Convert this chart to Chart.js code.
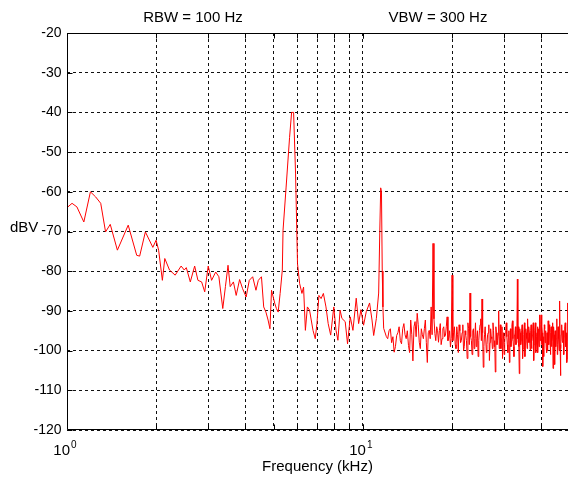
<!DOCTYPE html>
<html>
<head>
<meta charset="utf-8">
<script src="https://cdn.jsdelivr.net/npm/chart.js@4"></script>
<style>
  html, body { margin: 0; padding: 0; background: #fff; }
  #wrap { width: 568px; height: 478px; }
</style>
</head>
<body>
<div id="wrap"><canvas id="spectrum" width="568" height="478"></canvas></div>
<script>
// spectrum up to the 11.5 kHz line (kHz / dBV)
const lowFreq = [
  1.0, 1.04, 1.08, 1.14, 1.2, 1.25, 1.3, 1.35, 1.4, 1.48,
  1.61, 1.72, 1.76, 1.84, 1.95, 2.0, 2.04, 2.1, 2.14, 2.22,
  2.32, 2.43, 2.49, 2.53, 2.61, 2.7, 2.77, 2.85, 2.92, 3.0,
  3.08, 3.18, 3.26, 3.36, 3.43, 3.5, 3.56, 3.65, 3.73, 3.83,
  3.92, 4.03, 4.13, 4.24, 4.35, 4.43, 4.54, 4.62, 4.7, 4.78,
  4.85, 4.91, 5.04, 5.1, 5.17, 5.25, 5.34, 5.37, 5.5, 5.65,
  5.74, 5.83, 5.92, 6.01, 6.11, 6.22, 6.3, 6.39, 6.49, 6.6,
  6.78, 6.9, 6.99, 7.1, 7.22, 7.35, 7.5, 7.63, 7.78, 7.97,
  8.11, 8.23, 8.37, 8.49, 8.71, 8.87, 9.06, 9.25, 9.49, 9.67,
  9.84, 10.05, 10.26, 10.53, 10.73, 10.87, 11.1, 11.3, 11.4, 11.48,
  11.55, 11.62, 11.68
];
const lowLevel = [
  -64.0, -62.9, -63.8, -67.6, -60.0, -61.3, -62.9, -70.1, -68.2, -74.7,
  -68.4, -76.0, -76.2, -70.1, -74.0, -72.2, -74.7, -82.3, -76.8, -79.7,
  -81.0, -78.7, -79.7, -79.1, -82.7, -78.7, -82.3, -82.7, -85.2, -78.7,
  -82.3, -80.2, -81.4, -89.4, -83.9, -78.5, -83.9, -82.7, -86.1, -82.1,
  -84.4, -86.5, -82.3, -81.4, -84.8, -82.3, -81.4, -89.0, -90.3, -92.3,
  -94.5, -84.8, -88.2, -89.4, -90.3, -85.6, -79.7, -69.7, -58.8, -46.3,
  -40.0, -40.0, -55.5, -78.1, -83.1, -85.6, -84.0, -94.9, -89.0, -89.8,
  -94.9, -97.0, -93.2, -86.1, -86.9, -85.6, -89.0, -93.2, -96.1, -89.0,
  -94.9, -97.4, -89.8, -91.9, -92.7, -98.3, -91.5, -94.9, -86.8, -93.2,
  -89.7, -93.6, -90.2, -88.0, -92.3, -96.2, -91.9, -85.5, -70.0, -59.0,
  -60.0, -80.0, -89.0
];

// noise floor above 11.7 kHz, bins on the quarter kHz
const highFreq = [
  11.75,
  12, 12.25, 12.5, 12.75, 13, 13.25, 13.5, 13.75,
  14, 14.25, 14.5, 14.75, 15, 15.25, 15.5, 15.75,
  16, 16.25, 16.5, 16.75, 17, 17.25, 17.5, 17.75,
  18, 18.25, 18.5, 18.75, 19, 19.25, 19.5, 19.75,
  20, 20.25, 20.5, 20.75, 21, 21.25, 21.5, 21.75,
  22, 22.25, 22.5, 22.75, 23, 23.25, 23.5, 23.75,
  24, 24.25, 24.5, 24.75, 25, 25.25, 25.5, 25.75,
  26, 26.25, 26.5, 26.75, 27, 27.25, 27.5, 27.75,
  28, 28.25, 28.5, 28.75, 29, 29.25, 29.5, 29.75,
  30, 30.25, 30.5, 30.75, 31, 31.25, 31.5, 31.75,
  32, 32.25, 32.5, 32.75, 33, 33.25, 33.5, 33.75,
  34, 34.25, 34.5, 34.75, 35, 35.25, 35.5, 35.75,
  36, 36.25, 36.5, 36.75, 37, 37.25, 37.5, 37.75,
  38, 38.25, 38.5, 38.75, 39, 39.25, 39.5, 39.75,
  40, 40.25, 40.5, 40.75, 41, 41.25, 41.5, 41.75,
  42, 42.25, 42.5, 42.75, 43, 43.25, 43.5, 43.75,
  44, 44.25, 44.5, 44.75, 45, 45.25, 45.5, 45.75,
  46, 46.25, 46.5, 46.75, 47, 47.25, 47.5, 47.75,
  48, 48.25, 48.5, 48.75, 49, 49.25, 49.5, 49.75
];
const highLevel = [
  -94.4,
  -96.5, -95.0, -98.0, -100.4, -96.2, -94.0, -98.3, -93.2,
  -97.0, -98.7, -92.3, -102.6, -92.7, -90.6, -97.9, -94.5,
  -97.0, -92.3, -103.0, -94.9, -89.0, -73.0, -95.7, -94.0,
  -97.9, -93.2, -97.0, -94.0, -96.2, -91.5, -96.6, -99.1,
  -81.0, -95.5, -98.5, -94.0, -100.5, -95.0, -97.5, -93.5,
  -99.0, -96.0, -102.0, -94.5, -85.5, -97.5, -95.0, -99.5,
  -93.0, -97.0, -101.5, -95.0, -92.0, -87.0, -104.2, -96.0,
  -94.0, -98.5, -95.5, -102.5, -94.5, -97.0, -93.0, -99.0,
  -105.4, -95.5, -97.5, -90.0, -96.5, -99.5, -94.0, -97.0,
  -101.0, -95.5, -93.0, -98.5, -96.0, -103.0, -94.5, -97.5,
  -92.5, -99.0, -96.0, -94.0, -98.0, -82.0, -94.0, -105.8,
  -95.5, -97.5, -93.5, -99.5, -96.0, -101.5, -94.5, -97.0,
  -92.0, -98.0, -95.5, -100.0, -93.5, -97.5, -95.0, -102.5,
  -96.5, -93.0, -98.5, -95.5, -100.5, -94.5, -91.0, -97.5,
  -91.0, -94.0, -104.0, -96.5, -93.5, -98.0, -95.0, -100.5,
  -96.5, -92.5, -98.5, -95.0, -101.0, -94.0, -97.5, -93.0,
  -99.0, -96.0, -103.5, -95.0, -97.0, -92.0, -98.5, -95.5,
  -100.0, -87.5, -106.3, -96.0, -93.5, -98.0, -95.0, -101.0,
  -96.0, -93.0, -99.0, -95.5, -102.0, -88.0, -94.0, -98.0
];

// in-between bins of the noise floor
const midFreq = [
  12.125, 12.375, 12.625, 12.875, 13.125, 13.375, 13.625, 13.875,
  14.125, 14.375, 14.625, 14.875, 15.125, 15.375, 15.625, 15.875,
  16.125, 16.375, 16.625, 16.875, 17.125, 17.375, 17.625, 17.875,
  18.125, 18.375, 18.625, 18.875, 19.125, 19.375, 19.625, 19.875,
  20.125, 20.375, 20.625, 20.875, 21.125, 21.375, 21.625, 21.875,
  22.125, 22.375, 22.625, 22.875, 23.125, 23.375, 23.625, 23.875,
  24.125, 24.375, 24.625, 24.875, 25.125, 25.375, 25.625, 25.875,
  26.125, 26.375, 26.625, 26.875, 27.125, 27.375, 27.625, 27.875,
  28.125, 28.375, 28.625, 28.875, 29.125, 29.375, 29.625, 29.875,
  30.125, 30.375, 30.625, 30.875, 31.125, 31.375, 31.625, 31.875,
  32.125, 32.375, 32.625, 32.875, 33.125, 33.375, 33.625, 33.875,
  34.125, 34.375, 34.625, 34.875, 35.125, 35.375, 35.625, 35.875,
  36.125, 36.375, 36.625, 36.875, 37.125, 37.375, 37.625, 37.875,
  38.125, 38.375, 38.625, 38.875, 39.125, 39.375, 39.625, 39.875,
  40.125, 40.375, 40.625, 40.875, 41.125, 41.375, 41.625, 41.875,
  42.125, 42.375, 42.625, 42.875, 43.125, 43.375, 43.625, 43.875,
  44.125, 44.375, 44.625, 44.875, 45.125, 45.375, 45.625, 45.875,
  46.125, 46.375, 46.625, 46.875, 47.125, 47.375, 47.625, 47.875,
  48.125, 48.375, 48.625, 48.875, 49.125, 49.375, 49.625, 49.875
];
const midLevel = [
  -97.0, -94.5, -96.5, -99.0, -95.5, -97.5, -94.5, -96.0,
  -95.0, -100.5, -96.0, -94.0, -96.5, -93.5, -99.5, -96.0,
  -94.5, -98.0, -95.5, -97.0, -96.0, -92.0, -97.5, -95.0,
  -95.0, -98.5, -94.5, -96.5, -94.0, -97.5, -95.0, -97.0,
  -97.5, -94.0, -99.5, -96.0, -93.5, -98.0, -95.5, -100.0,
  -95.0, -97.5, -93.0, -98.5, -96.5, -101.0, -94.5, -97.0,
  -99.0, -95.0, -97.5, -93.5, -97.5, -95.5, -99.0, -94.0,
  -100.5, -96.0, -93.5, -98.0, -96.5, -99.5, -95.0, -97.5,
  -94.0, -98.5, -96.0, -99.5, -93.5, -97.0, -102.0, -95.5,
  -98.0, -94.5, -96.5, -100.5, -95.0, -97.5, -99.0, -93.5,
  -97.0, -101.5, -95.5, -98.5, -95.0, -97.0, -99.0, -94.5,
  -98.5, -95.0, -102.0, -96.5, -93.0, -98.0, -95.5, -99.5,
  -96.5, -94.0, -98.0, -95.0, -99.5, -96.0, -93.0, -98.5,
  -95.0, -100.5, -96.5, -94.0, -97.5, -99.0, -95.5, -93.5,
  -98.5, -95.5, -97.0, -101.5, -94.5, -97.0, -99.5, -95.5,
  -100.0, -96.0, -93.5, -98.0, -95.5, -99.0, -96.5, -104.5,
  -94.0, -97.5, -95.0, -99.0, -96.5, -101.0, -94.0, -97.0,
  -95.0, -98.5, -99.5, -94.5, -97.5, -95.0, -100.0, -96.5,
  -94.0, -98.5, -96.0, -103.0, -95.5, -97.5, -93.5, -99.0
];

const xGridKHz = [2, 3, 4, 5, 6, 7, 8, 9, 10, 20, 30, 40];
const xDecades = [1, 10];
const yTicks = [-20, -30, -40, -50, -60, -70, -80, -90, -100, -110, -120];
const xMin = 1, xMax = 49.3;

const freq = lowFreq.concat(highFreq, midFreq);
const level = lowLevel.concat(highLevel, midLevel);
const points = freq.map((f, i) => ({ x: f, y: level[i] })).sort((p, q) => p.x - q.x);

const FONT = '"Liberation Sans", Arial, sans-serif';

// axes box, inner tick marks and all the MATLAB-style labels
const decorations = {
  id: 'decorations',
  afterDraw(chart) {
    const { ctx, chartArea: a, scales: { x, y } } = chart;
    const L = Math.round(a.left) + 0.5;
    const T = Math.round(a.top) + 0.5;
    const B = Math.round(a.bottom) - 0.5;
    ctx.save();
    ctx.strokeStyle = '#000';
    ctx.lineWidth = 1;
    ctx.beginPath();
    ctx.moveTo(a.right, T); ctx.lineTo(L, T); ctx.lineTo(L, B); ctx.lineTo(a.right, B);
    xDecades.concat(xGridKHz).forEach(f => {
      const px = Math.round(x.getPixelForValue(f)) + 0.5;
      ctx.moveTo(px, B); ctx.lineTo(px, B - 5);
      ctx.moveTo(px, T); ctx.lineTo(px, T + 5);
    });
    yTicks.forEach(v => {
      const py = Math.round(y.getPixelForValue(v)) + 0.5;
      ctx.moveTo(L, py); ctx.lineTo(L + 5, py);
    });
    ctx.stroke();

    ctx.fillStyle = '#000';
    ctx.font = '14px ' + FONT;
    ctx.textAlign = 'right';
    ctx.textBaseline = 'middle';
    yTicks.forEach(v => ctx.fillText(String(v), L - 6, y.getPixelForValue(v)));

    ctx.textBaseline = 'alphabetic';
    xDecades.forEach(f => {
      const px = x.getPixelForValue(f);
      const exp = String(Math.round(Math.log10(f)));
      ctx.font = '15px ' + FONT;
      ctx.textAlign = 'right';
      ctx.fillText('10', px + 3, 455);
      ctx.font = '10px ' + FONT;
      ctx.textAlign = 'left';
      ctx.fillText(exp, px + 4, 448);
    });

    ctx.font = '15px ' + FONT;
    ctx.textAlign = 'center';
    ctx.fillText('Frequency (kHz)', 317.5, 471);
    ctx.fillText('RBW = 100 Hz', 193, 22);
    ctx.fillText('VBW = 300 Hz', 438, 22);
    ctx.textAlign = 'left';
    ctx.fillText('dBV', 10, 232);
    ctx.restore();
  }
};

new Chart(document.getElementById('spectrum'), {
  type: 'line',
  data: {
    datasets: [{
      data: points,
      borderColor: '#ff0000',
      borderWidth: 1,
      pointRadius: 0,
      tension: 0,
      fill: false
    }]
  },
  options: {
    responsive: false,
    animation: false,
    layout: { padding: { left: 67, top: 33, right: 0, bottom: 48 } },
    plugins: { legend: { display: false }, tooltip: { enabled: false } },
    scales: {
      x: {
        type: 'logarithmic',
        min: xMin,
        max: xMax,
        afterBuildTicks: scale => { scale.ticks = xGridKHz.map(v => ({ value: v })); },
        ticks: { display: false },
        grid: { color: '#111', lineWidth: 1, drawTicks: false },
        border: { display: false, dash: [3, 3] }
      },
      y: {
        min: -120,
        max: -20,
        afterBuildTicks: scale => { scale.ticks = yTicks.map(v => ({ value: v })); },
        ticks: { display: false },
        grid: { color: '#111', lineWidth: 1, drawTicks: false },
        border: { display: false, dash: [3, 3] }
      }
    }
  },
  plugins: [decorations]
});
</script>
</body>
</html>
